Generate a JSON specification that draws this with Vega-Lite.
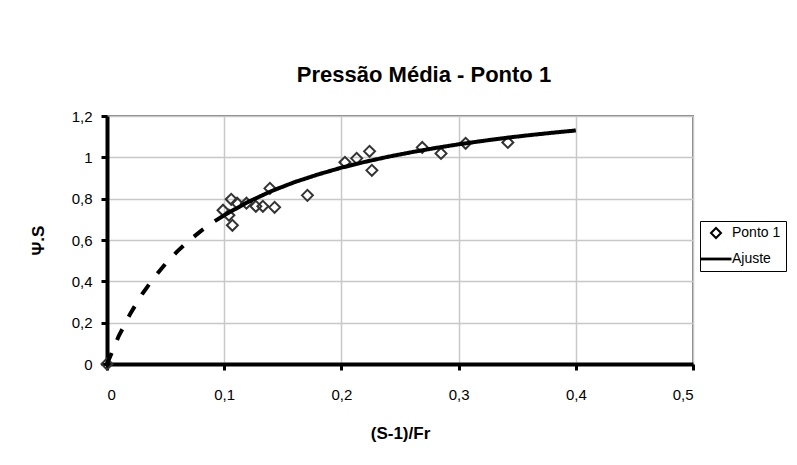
{
  "$schema": "https://vega.github.io/schema/vega-lite/v6.json",
  "autosize": {"type": "none"},
  "width": 586,
  "height": 248,
  "padding": {"left": 107, "top": 116, "right": 104, "bottom": 101},
  "background": "white",
  "title": {
    "text": "Pressão Média - Ponto 1",
    "font": "Liberation Sans",
    "fontSize": 22,
    "fontWeight": "bold",
    "color": "#000000",
    "anchor": "middle",
    "offset": 22,
    "dx": 24
  },
  "config": {
    "view": {"stroke": "#808080", "strokeWidth": 2},
    "axis": {
      "labelFont": "Liberation Sans",
      "labelFontSize": 15,
      "labelColor": "#000000",
      "titleFont": "Liberation Sans",
      "titleFontSize": 17,
      "titleFontWeight": "bold",
      "titleColor": "#000000",
      "domainColor": "#000000",
      "domainWidth": 4,
      "tickColor": "#000000",
      "tickWidth": 3,
      "tickSize": 6,
      "gridColor": "#c8c8c8",
      "gridWidth": 1.5
    }
  },
  "datasets": {
    "pts": [
      {"x": 0, "y": 0, "series": "Ponto 1"},
      {"x": 0.099, "y": 0.744, "series": "Ponto 1"},
      {"x": 0.106, "y": 0.797, "series": "Ponto 1"},
      {"x": 0.107, "y": 0.671, "series": "Ponto 1"},
      {"x": 0.104, "y": 0.72, "series": "Ponto 1"},
      {"x": 0.111, "y": 0.778, "series": "Ponto 1"},
      {"x": 0.119, "y": 0.778, "series": "Ponto 1"},
      {"x": 0.127, "y": 0.763, "series": "Ponto 1"},
      {"x": 0.133, "y": 0.763, "series": "Ponto 1"},
      {"x": 0.143, "y": 0.758, "series": "Ponto 1"},
      {"x": 0.139, "y": 0.85, "series": "Ponto 1"},
      {"x": 0.171, "y": 0.816, "series": "Ponto 1"},
      {"x": 0.203, "y": 0.976, "series": "Ponto 1"},
      {"x": 0.213, "y": 0.995, "series": "Ponto 1"},
      {"x": 0.224, "y": 1.029, "series": "Ponto 1"},
      {"x": 0.226, "y": 0.937, "series": "Ponto 1"},
      {"x": 0.269, "y": 1.048, "series": "Ponto 1"},
      {"x": 0.285, "y": 1.019, "series": "Ponto 1"},
      {"x": 0.306, "y": 1.068, "series": "Ponto 1"},
      {"x": 0.342, "y": 1.072, "series": "Ponto 1"}
    ],
    "fit": [
      {"x": 0, "y": 0, "part": "dash"},
      {"x": 0.01, "y": 0.135, "part": "dash"},
      {"x": 0.02, "y": 0.245, "part": "dash"},
      {"x": 0.03, "y": 0.338, "part": "dash"},
      {"x": 0.04, "y": 0.417, "part": "dash"},
      {"x": 0.05, "y": 0.485, "part": "dash"},
      {"x": 0.06, "y": 0.545, "part": "dash"},
      {"x": 0.07, "y": 0.597, "part": "dash"},
      {"x": 0.08, "y": 0.643, "part": "dash"},
      {"x": 0.09, "y": 0.684, "part": "dash"},
      {"x": 0.1, "y": 0.72, "part": "dash"},
      {"x": 0.1, "y": 0.72, "part": "solid"},
      {"x": 0.12, "y": 0.783, "part": "solid"},
      {"x": 0.14, "y": 0.836, "part": "solid"},
      {"x": 0.16, "y": 0.88, "part": "solid"},
      {"x": 0.18, "y": 0.917, "part": "solid"},
      {"x": 0.2, "y": 0.95, "part": "solid"},
      {"x": 0.22, "y": 0.978, "part": "solid"},
      {"x": 0.24, "y": 1.003, "part": "solid"},
      {"x": 0.26, "y": 1.025, "part": "solid"},
      {"x": 0.28, "y": 1.045, "part": "solid"},
      {"x": 0.3, "y": 1.063, "part": "solid"},
      {"x": 0.32, "y": 1.079, "part": "solid"},
      {"x": 0.34, "y": 1.094, "part": "solid"},
      {"x": 0.36, "y": 1.107, "part": "solid"},
      {"x": 0.38, "y": 1.119, "part": "solid"},
      {"x": 0.4, "y": 1.13, "part": "solid"}
    ]
  },
  "encoding": {
    "x": {
      "field": "x",
      "type": "quantitative",
      "scale": {"domain": [0, 0.5], "nice": false},
      "axis": {
        "title": "(S-1)/Fr",
        "values": [0, 0.1, 0.2, 0.3, 0.4, 0.5],
        "labelExpr": "replace(format(datum.value, '.1~f'), '.', ',')",
        "labelPadding": 17,
        "titleY": 69,
        "titleBaseline": "middle"
      }
    },
    "y": {
      "field": "y",
      "type": "quantitative",
      "scale": {"domain": [0, 1.2], "nice": false},
      "axis": {
        "title": "Ψ.S",
        "values": [0, 0.2, 0.4, 0.6, 0.8, 1, 1.2],
        "labelExpr": "replace(format(datum.value, '.1~f'), '.', ',')",
        "labelPadding": 9,
        "titleX": -69,
        "titleY": 124,
        "titleAngle": 270,
        "titleAlign": "center",
        "titleBaseline": "middle"
      }
    }
  },
  "layer": [
    {
      "data": {"name": "pts"},
      "mark": {"type": "point", "filled": false, "strokeWidth": 2, "size": 120, "opacity": 1, "color": "#333333"},
      "encoding": {
        "shape": {
          "field": "series",
          "type": "nominal",
          "scale": {"domain": ["Ponto 1", "Ajuste"], "range": ["diamond", "M-2.9,-0.08L2.9,-0.08L2.9,0.08L-2.9,0.08Z"]},
          "legend": {
            "title": null,
            "orient": "none",
            "legendX": 593,
            "legendY": 105,
            "strokeColor": "#000000",
            "fillColor": "#ffffff",
            "padding": 5,
            "labelFont": "Liberation Sans",
            "labelFontSize": 14,
            "labelColor": "#000000",
            "labelOffset": 9,
            "rowPadding": 10,
            "symbolSize": 100,
            "symbolOffset": 4,
            "symbolStrokeWidth": 2,
            "symbolStrokeColor": "#000000",
            "symbolFillColor": "#000000"
          }
        }
      }
    },
    {
      "data": {"name": "fit"},
      "mark": {"type": "line", "strokeWidth": 4, "strokeCap": "butt", "color": "#000000"},
      "encoding": {
        "strokeDash": {
          "field": "part",
          "type": "nominal",
          "scale": {"domain": ["dash", "solid"], "range": [[12, 14], [1, 0]]},
          "legend": null
        },
        "detail": {"field": "part"}
      }
    }
  ]
}
